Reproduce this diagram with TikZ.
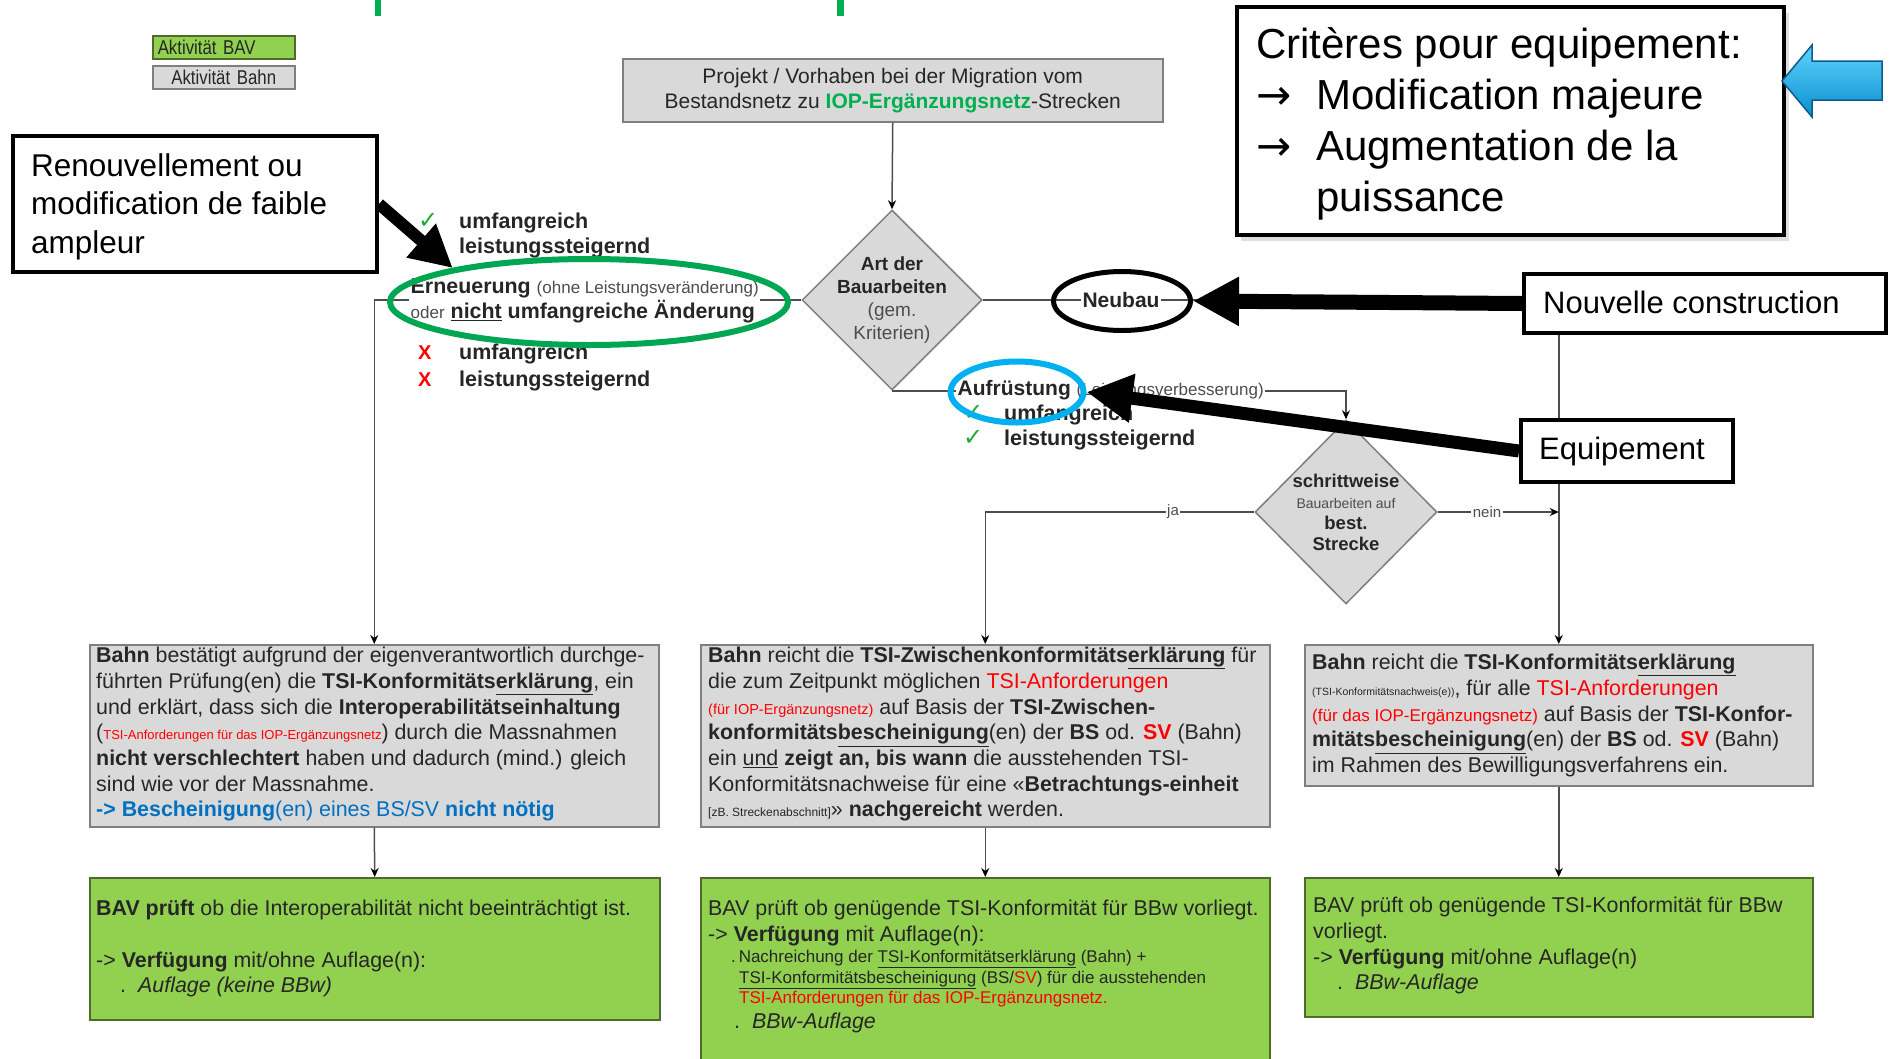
\documentclass[tikz,border=0pt]{standalone}
\usepackage{fontspec}
\setmainfont{Liberation Sans}
\newfontfamily\djv{DejaVu Sans}
\newfontfamily\nar[FakeStretch=0.84]{Liberation Sans}
\usetikzlibrary{arrows.meta,shapes.geometric}
\definecolor{boxgray}{HTML}{D9D9D9}
\definecolor{boxgreen}{HTML}{92D050}
\definecolor{gborder}{HTML}{7F7F7F}
\definecolor{greenborder}{HTML}{4F6A2A}
\definecolor{iopgreen}{HTML}{00B050}
\definecolor{ellgreen}{HTML}{00A651}
\definecolor{ellblue}{HTML}{00B0F0}
\definecolor{txtblue}{HTML}{0070C0}
\definecolor{txt}{HTML}{262626}
\definecolor{linegray}{HTML}{4D4D4D}
\definecolor{smallgray}{HTML}{4D4D4D}
\definecolor{ckgreen}{HTML}{22A838}
\definecolor{arrlight}{HTML}{5FD3FA}
\definecolor{arrdark}{HTML}{0A8FD0}
\definecolor{arredge}{HTML}{0B5C8C}
\newcommand{\fs}[2]{\fontsize{#1}{#2}\selectfont}
\newcommand{\bft}[1]{\textbf{#1}}
\newcommand{\rd}[1]{{\color{red}#1}}
\newcommand{\ckm}{{\djv\fs{24}{25}\color{ckgreen}✓}}
\newcommand{\xm}{{\color{red}\fs{20}{20}X}}
\newcommand{\rarr}{{\djv →}}
\begin{document}
\begin{tikzpicture}[x=1pt,y=-1pt,
  graybox/.style={draw=gborder, fill=boxgray, line width=1.5pt, inner sep=0pt, anchor=north west},
  greenbox/.style={draw=greenborder, fill=boxgreen, line width=1.5pt, inner sep=0pt, anchor=north west},
  boxtxt/.style={anchor=north west, align=left, inner sep=0pt, font=\fs{21.4}{25.7}, text=txt},
  flowarr/.style={draw=linegray, line width=1.5pt, -{Stealth[length=9pt,width=8pt,color=black]}},
  annot/.style={draw=black, line width=4pt, fill=white, inner sep=0pt, anchor=north west},
  annottxt/.style={align=left, inner sep=0pt, text=black},
  onlabel/.style={fill=white, inner sep=1.5pt},
  chk/.style={anchor=north west, align=left, inner sep=0pt, font=\bfseries\fs{21.5}{25}, text=txt},
  bigarrow/.style={draw=black, line width=14pt, -{Triangle[length=46pt,width=46pt]}},
  dtxt/.style={align=center, inner sep=0pt, text=txt}]
\useasboundingbox (0,0) rectangle (1890,1058);

% remnants of a cut-off title
\fill[iopgreen] (375,0) rectangle (381,16);
\fill[iopgreen] (837,0) rectangle (844,16);

% legend
\node[greenbox, minimum width=142pt, minimum height=23pt, text width=132pt, align=left, inner xsep=5pt, font=\nar\fs{20}{21}, text=txt] (lgA) at (152,35) {Aktivität BAV};
\node[graybox, minimum width=142pt, minimum height=23pt, text width=132pt, align=center, inner xsep=5pt, font=\nar\fs{20}{21}, text=txt] (lgB) at (152,65) {Aktivität Bahn};

% top box
\node[graybox, minimum width=540pt, minimum height=63pt] (top) at (622,58) {};
\node[dtxt, font=\fs{21}{25}] (topt) at (top.center) {Projekt / Vorhaben bei der Migration vom\\Bestandsnetz zu {\bfseries\color{iopgreen}IOP-Ergänzungsnetz}-Strecken};

% diamonds
\node[diamond, draw=gborder, fill=boxgray, line width=1.5pt, minimum width=180pt, minimum height=180pt, inner sep=0pt] (d1) at (892,300) {};
\node[dtxt, font=\fs{19}{23}] (d1t) at (892,300) {\bft{Art der}\\\bft{Bauarbeiten}\\{\color{smallgray}(gem.}\\{\color{smallgray}Kriterien)}};
\node[diamond, draw=gborder, fill=boxgray, line width=1.5pt, minimum width=182pt, minimum height=184pt, inner sep=0pt] (d2) at (1346,512) {};
\node[dtxt, font=\fs{18.5}{21}] (d2t) at (1346,512) {\bft{schrittweise}\\{\fs{14}{20}\color{smallgray}Bauarbeiten auf}\\\bft{best.}\\\bft{Strecke}};

% boxes
\node[graybox, minimum width=569pt, minimum height=182pt] (b1) at (89,644) {};
\node[graybox, minimum width=569pt, minimum height=182pt] (b2) at (700,644) {};
\node[graybox, minimum width=508pt, minimum height=141pt] (b3) at (1304,644) {};
\node[greenbox, minimum width=570pt, minimum height=142pt] (b4) at (89,877) {};
\node[greenbox, minimum width=569pt, minimum height=190pt] (b5) at (700,877) {};
\node[greenbox, minimum width=508pt, minimum height=139pt] (b6) at (1304,877) {};

\node[boxtxt] (t1) at (96,647) {\bft{Bahn} bestätigt aufgrund der eigenverantwortlich durchge-\\
führten Prüfung(en) die \bft{TSI-Konformitäts\underline{erklärung}}, ein\\
und erklärt, dass sich die \bft{Interoperabilitätseinhaltung}\\
({\fs{13}{15}\color{red}TSI-Anforderungen für das IOP-Ergänzungsnetz}) durch die Massnahmen\\
\bft{nicht verschlechtert} haben und dadurch (mind.) gleich\\
sind wie vor der Massnahme.\\
{\color{txtblue}\bft{-> Bescheinigung}(en) eines BS/SV \bft{nicht nötig}}};

\node[boxtxt] (t2) at (708,647) {\bft{Bahn} reicht die \bft{TSI-Zwischenkonformitäts\underline{erklärung}} für\\
die zum Zeitpunkt möglichen \rd{TSI-Anforderungen}\\
{\fs{14.5}{16}\rd{(für IOP-Ergänzungsnetz)}} auf Basis der \bft{TSI-Zwischen-}\\
\bft{konformitäts\underline{bescheinigung}}(en) der \bft{BS} od. \rd{\bft{SV}} (Bahn)\\
ein \underline{und} \bft{zeigt an, bis wann} die ausstehenden TSI-\\
Konformitätsnachweise für eine «\bft{Betrachtungs-einheit}\\
{\fs{12}{14}[zB. Streckenabschnitt]}» \bft{nachgereicht} werden.};

\node[boxtxt] (t3) at (1312,654) {\bft{Bahn} reicht die \bft{TSI-Konformitäts\underline{erklärung}}\\
{\fs{10.5}{12}(TSI-Konformitätsnachweis(e))}, für alle \rd{TSI-Anforderungen}\\
{\fs{17}{19}\rd{(für das IOP-Ergänzungsnetz)}} auf Basis der \bft{TSI-Konfor-}\\
\bft{mitäts\underline{bescheinigung}}(en) der \bft{BS} od. \rd{\bft{SV}} (Bahn)\\
im Rahmen des Bewilligungsverfahrens ein.};

\node[boxtxt] (t4) at (96,900) {\bft{BAV prüft} ob die Interoperabilität nicht beeinträchtigt ist.\\[25.7pt]
-> \bft{Verfügung} mit/ohne Auflage(n):\\
\hspace*{24pt}.\hspace*{12pt}\textit{Auflage (keine BBw)}};

\node[boxtxt] (t5a) at (708,900) {BAV prüft ob genügende TSI-Konformität für BBw vorliegt.\\
-> \bft{Verfügung} mit Auflage(n):};
\node[boxtxt, font=\fs{17}{20.5}] (t5b) at (731,950) {.\,Nachreichung der \underline{TSI-Konformitätserklärung} (Bahn) +\\
\hspace*{8pt}\underline{TSI-Konformitätsbescheinigung} (BS/\rd{SV}) für die ausstehenden\\
\hspace*{8pt}\rd{TSI-Anforderungen für das IOP-Ergänzungsnetz.}};
\node[boxtxt] (t5c) at (734,1013) {.\hspace*{12pt}\textit{BBw-Auflage}};

\node[boxtxt] (t6) at (1313,897) {BAV prüft ob genügende TSI-Konformität für BBw\\
vorliegt.\\
-> \bft{Verfügung} mit/ohne Auflage(n)\\
\hspace*{24pt}.\hspace*{12pt}\textit{BBw-Auflage}};

% connectors
\draw[flowarr] (top.south) -- (d1.north);
\draw[flowarr] (d1.west) -| (b1.north);
\draw[flowarr] (d1.east) -| (b3.north);
\draw[flowarr] (d1.south) -| (d2.north);
\draw[flowarr] (d2.west) -| (b2.north);
\coordinate (j3) at (b3.north |- d2.east);
\draw[flowarr] (d2.east) -- (j3);
\draw[flowarr] (b1.south) -- (b4.north);
\draw[flowarr] (b2.south) -- (b5.north);
\draw[flowarr] (b3.south) -- (b6.north);

% labels on connectors
\node[onlabel, anchor=west, align=left, font=\fs{21.4}{25}, text=txt] (lbl1) at (409,301) {\bft{Erneuerung} {\fs{17}{18}\color{smallgray}(ohne Leistungsveränderung)}\\{\fs{17}{18}\color{smallgray}oder} \bft{\underline{nicht} umfangreiche Änderung}};
\node[onlabel, font=\bfseries\fs{21}{25}, text=txt] (lbl2) at (1121,300) {Neubau};
\node[onlabel, anchor=west, font=\fs{21}{25}, text=txt] (lbl3) at (956,390) {\bft{Aufrüstung} {\fs{17}{18}\color{smallgray}(Leistungsverbesserung)}};
\node[onlabel, font=\fs{15}{17}, text=smallgray] (lja) at (1173,512) {ja};
\node[onlabel, font=\fs{15}{17}, text=smallgray] (lnein) at (1487,512) {nein};

% check lists
\node[chk] (cl1) at (418,213) {\makebox[41pt][l]{\ckm}umfangreich\\\makebox[41pt][l]{\ckm}leistungssteigernd};
\node[chk, font=\bfseries\fs{21.5}{26.5}] (xl1) at (418,344) {\makebox[41pt][l]{\xm}umfangreich\\\makebox[41pt][l]{\xm}leistungssteigernd};
\node[chk] (cl3) at (963,405) {\makebox[41pt][l]{\ckm}umfangreich\\\makebox[41pt][l]{\ckm}leistungssteigernd};

% annotation overlay
\node[ellipse, draw=ellgreen, line width=6pt, minimum width=398pt, minimum height=86pt, inner sep=0pt] (gell) at (589,302) {};
\node[ellipse, draw=black, line width=5pt, minimum width=137pt, minimum height=59pt, inner sep=0pt] (kell) at (1122,301) {};
\node[ellipse, draw=ellblue, line width=6pt, minimum width=133pt, minimum height=61pt, inner sep=0pt] (bell) at (1017,392) {};

\fill[black!13] (1241,13) rectangle (1789,241);
\node[annot, minimum width=547pt, minimum height=228pt] (crit) at (1235,5) {};
\node[annottxt, anchor=north west, font=\fs{42}{51}] (critt) at (1256,27) {Critères pour equipement:\\\makebox[60pt][l]{\rarr}Modification majeure\\\makebox[60pt][l]{\rarr}Augmentation de la\\\hspace*{60pt}puissance};

\node[annot, minimum width=364pt, minimum height=136pt] (renouv) at (11,134) {};
\node[annottxt, anchor=north west, font=\fs{31.5}{38.6}] (renouvt) at (31,153) {Renouvellement ou\\modification de faible\\ampleur};

\node[annot, minimum width=362pt, minimum height=59pt] (nouv) at (1522,272) {};
\node[annottxt, anchor=west, font=\fs{31}{34}] (nouvt) at (1543,302) {Nouvelle construction};

\node[annot, minimum width=212pt, minimum height=62pt] (equip) at (1519,418) {};
\node[annottxt, anchor=west, font=\fs{31}{34}] (equipt) at (1539,451) {Equipement};

\draw[draw=black, line width=12pt, -{Triangle[length=42pt,width=42pt]}] (renouv.east) -- (gell.166);
\draw[bigarrow, line width=15pt] (nouv.west) -- (kell.east);
\draw[bigarrow, line width=13pt] (equip.west) -- (bell.east);

% blue 3D arrow
\filldraw[draw=arredge, line width=1.5pt, top color=arrlight, bottom color=arrdark] (1782,81) -- (1812,45) -- (1812,61) -- (1882,61) -- (1882,100) -- (1812,100) -- (1812,117) -- cycle;
\end{tikzpicture}
\end{document}
